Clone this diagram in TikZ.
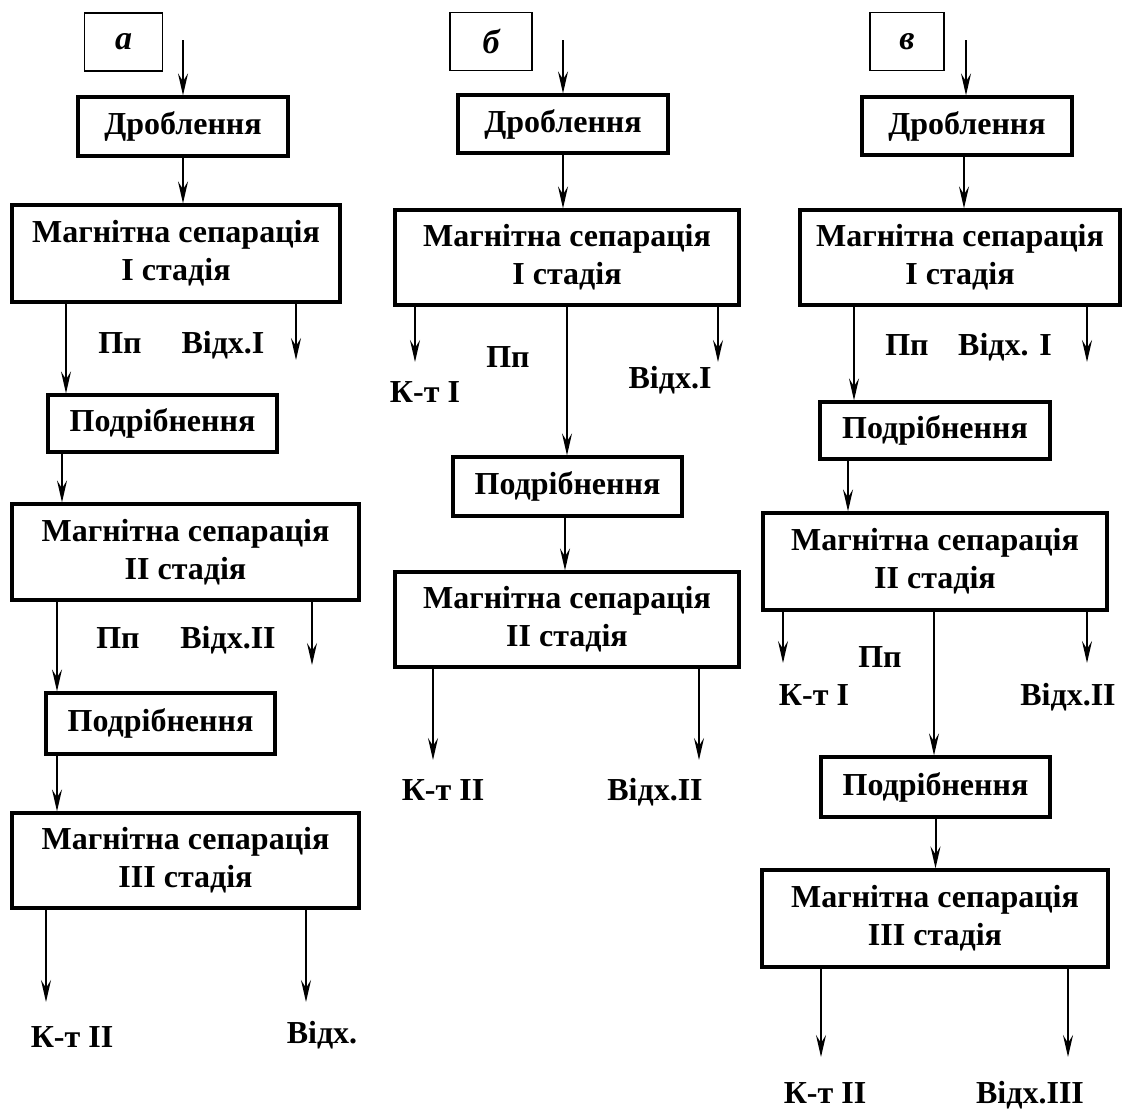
\documentclass[tikz,border=0pt]{standalone}
\usepackage{fontspec}
\setmainfont{Liberation Serif}
\usetikzlibrary{positioning, arrows.meta}
\tikzset{
    stagebox/.style={draw, line width=1.6pt, inner sep=0pt, align=center, font=\fontsize{16pt}{19pt}\selectfont\bfseries},
    letterbox/.style={draw, line width=0.8pt, minimum width=39pt, minimum height=29pt, inner sep=0pt, font=\fontsize{17pt}{19pt}\selectfont\bfseries\itshape},
    tag/.style={inner sep=0pt, text height=10.6pt, text depth=0pt, font=\fontsize{16pt}{19pt}\selectfont\bfseries},
    flow/.style={line width=1pt, -{Stealth[length=11pt, width=5pt, inset=4pt]}}
}

\begin{document}
\begin{tikzpicture}[x=0.5pt, y=-0.5pt]
  \useasboundingbox (0,0) rectangle (1124,1108);
  % scheme a
  \node(lblA)[letterbox] at (123.5,42){а};
  \coordinate(inA) at (183,40);
  \node(drA)[stagebox, minimum width=105pt, minimum height=29.5pt] at (183,126.5){Дроблення};
  \node(msA1)[stagebox, minimum width=164pt, minimum height=48.5pt] at (176,253.5){Магнітна сепарація\\І стадія};
  \node(pdA1)[stagebox, minimum width=114.5pt, minimum height=28.5pt] at (162.5,423.5){Подрібнення};
  \node(msA2)[stagebox, minimum width=173.5pt, minimum height=48pt] at (185.5,552){Магнітна сепарація\\ІІ стадія};
  \node(pdA2)[stagebox, minimum width=114.5pt, minimum height=30.5pt] at (160.5,723.5){Подрібнення};
  \node(msA3)[stagebox, minimum width=173.5pt, minimum height=47.5pt] at (185.5,860.5){Магнітна сепарація\\ІІІ стадія};
  \coordinate(oA1) at (296,360);
  \coordinate(oA2) at (312,665);
  \coordinate(oA3) at (46,1002);
  \coordinate(oA4) at (306,1002);
  \node(ppA1)[tag] at (120,343){Пп};
  \node(wA1)[tag] at (223,343){Відх.І};
  \node(ppA2)[tag] at (118,638){Пп};
  \node(wA2)[tag] at (228,638){Відх.ІІ};
  \node(kA)[tag] at (72,1037){К-т ІІ};
  \node(wA3)[tag] at (322,1033){Відх.};
  \draw[flow](inA)--(inA |- drA.north);
  \draw[flow](drA.south)--(drA.south |- msA1.north);
  \draw[flow](msA1.south -| 66,0)--(pdA1.north -| 66,0);
  \draw[flow](msA1.south -| oA1)--(oA1);
  \draw[flow](pdA1.south -| 62,0)--(msA2.north -| 62,0);
  \draw[flow](msA2.south -| 57,0)--(pdA2.north -| 57,0);
  \draw[flow](msA2.south -| oA2)--(oA2);
  \draw[flow](pdA2.south -| 57,0)--(msA3.north -| 57,0);
  \draw[flow](msA3.south -| oA3)--(oA3);
  \draw[flow](msA3.south -| oA4)--(oA4);
  % scheme b
  \node(lblB)[letterbox, minimum width=41pt] at (491,41.5){б};
  \coordinate(inB) at (563,40);
  \node(drB)[stagebox, minimum width=105pt, minimum height=29pt] at (563,124){Дроблення};
  \node(msB1)[stagebox, minimum width=172pt, minimum height=47.5pt] at (567,257.5){Магнітна сепарація\\І стадія};
  \node(pdB)[stagebox, minimum width=114.5pt, minimum height=29.5pt] at (567.5,486.5){Подрібнення};
  \node(msB2)[stagebox, minimum width=172pt, minimum height=47.5pt] at (567,619.5){Магнітна сепарація\\ІІ стадія};
  \coordinate(oB1) at (415,362);
  \coordinate(oB2) at (718,362);
  \coordinate(oB3) at (433,760);
  \coordinate(oB4) at (699,760);
  \node(ppB)[tag] at (508,357){Пп};
  \node(kB1)[tag] at (425,392){К-т І};
  \node(wB1)[tag] at (670,378){Відх.І};
  \node(kB2)[tag] at (443,790){К-т ІІ};
  \node(wB2)[tag] at (655,790){Відх.ІІ};
  \draw[flow](inB)--(inB |- drB.north);
  \draw[flow](drB.south)--(drB.south |- msB1.north);
  \draw[flow](msB1.south -| oB1)--(oB1);
  \draw[flow](msB1.south)--(pdB.north -| msB1.south);
  \draw[flow](msB1.south -| oB2)--(oB2);
  \draw[flow](pdB.south -| 565,0)--(msB2.north -| 565,0);
  \draw[flow](msB2.south -| oB3)--(oB3);
  \draw[flow](msB2.south -| oB4)--(oB4);
  % scheme c
  \node(lblC)[letterbox, minimum width=37pt] at (907,41.5){в};
  \coordinate(inC) at (966,40);
  \node(drC)[stagebox, minimum width=105pt, minimum height=29pt] at (967,126){Дроблення};
  \node(msC1)[stagebox, minimum width=160pt, minimum height=47.5pt] at (960,257.5){Магнітна сепарація\\І стадія};
  \node(pdC1)[stagebox, minimum width=115pt, minimum height=28.5pt] at (935,430.5){Подрібнення};
  \node(msC2)[stagebox, minimum width=172pt, minimum height=48.5pt] at (935,561.5){Магнітна сепарація\\ІІ стадія};
  \node(pdC2)[stagebox, minimum width=114.5pt, minimum height=30pt] at (935.5,787){Подрібнення};
  \node(msC3)[stagebox, minimum width=173pt, minimum height=48.5pt] at (935,918.5){Магнітна сепарація\\ІІІ стадія};
  \coordinate(oC1) at (1087,362);
  \coordinate(oC2) at (783,663);
  \coordinate(oC3) at (1087,663);
  \coordinate(oC4) at (821,1057);
  \coordinate(oC5) at (1068,1057);
  \node(ppC1)[tag] at (907,345){Пп};
  \node(wC1)[tag] at (1005,345){Відх. І};
  \node(ppC2)[tag] at (880,657){Пп};
  \node(kC1)[tag] at (814,695){К-т І};
  \node(wC2)[tag] at (1068,695){Відх.ІІ};
  \node(kC2)[tag] at (825,1093){К-т ІІ};
  \node(wC3)[tag] at (1030,1093){Відх.ІІІ};
  \draw[flow](inC)--(inC |- drC.north);
  \draw[flow](drC.south -| 964,0)--(msC1.north -| 964,0);
  \draw[flow](msC1.south -| 854,0)--(pdC1.north -| 854,0);
  \draw[flow](msC1.south -| oC1)--(oC1);
  \draw[flow](pdC1.south -| 848,0)--(msC2.north -| 848,0);
  \draw[flow](msC2.south -| oC2)--(oC2);
  \draw[flow](msC2.south -| 934,0)--(pdC2.north -| 934,0);
  \draw[flow](msC2.south -| oC3)--(oC3);
  \draw[flow](pdC2.south)--(msC3.north -| pdC2.south);
  \draw[flow](msC3.south -| oC4)--(oC4);
  \draw[flow](msC3.south -| oC5)--(oC5);
\end{tikzpicture}
\end{document}
